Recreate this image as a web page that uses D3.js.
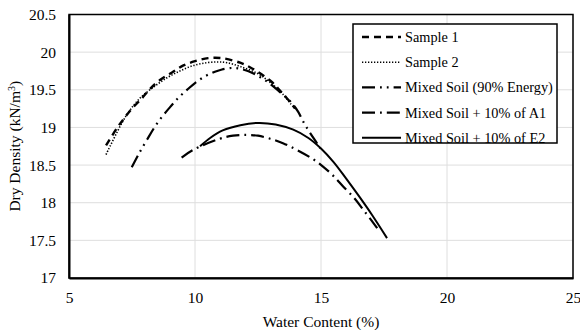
<!DOCTYPE html>
<html>
<head>
<meta charset="utf-8">
<script src="https://cdn.jsdelivr.net/npm/d3@7"></script>
<style>
  body { margin: 0; background: #fff; }
  text { font-family: "Liberation Serif", "Times New Roman", serif; fill: #000; }
</style>
</head>
<body>
<div id="canvas"></div>
<script>
"use strict"

/* Data: [water content, dry density] */
let sample1 = [[6.47, 18.76], [6.90, 18.99], [7.14, 19.10], [7.50, 19.25], [7.90, 19.39], [8.21, 19.51],
    [8.61, 19.63], [9.09, 19.73], [9.52, 19.82], [10.0, 19.88], [10.52, 19.92], [11.07, 19.92],
    [11.79, 19.86], [12.18, 19.80], [12.58, 19.72], [13.06, 19.60], [13.37, 19.49], [13.69, 19.37], [13.97, 19.25]];
let sample2 = [[6.47, 18.64], [7.10, 19.06], [7.42, 19.23], [7.82, 19.39], [8.33, 19.53], [8.89, 19.66],
    [9.40, 19.75], [9.92, 19.82], [10.48, 19.86], [10.91, 19.87], [11.27, 19.86], [11.79, 19.81],
    [12.46, 19.72], [12.98, 19.60], [13.49, 19.44], [13.85, 19.29]];
let mixed90 = [[7.49, 18.47], [7.74, 18.63], [8.10, 18.84], [8.53, 19.07], [9.01, 19.27], [9.33, 19.39],
    [9.72, 19.51], [10.00, 19.59], [10.40, 19.68], [10.79, 19.74], [11.07, 19.77], [11.51, 19.79],
    [11.90, 19.77], [12.30, 19.72], [12.86, 19.61], [13.37, 19.47], [13.77, 19.35], [14.09, 19.21],
    [14.29, 19.08], [14.56, 18.93], [14.84, 18.79], [14.96, 18.72]];
let mixedA1 = [[9.47, 18.60], [9.92, 18.70], [10.99, 18.85], [11.51, 18.89], [12.06, 18.90], [12.50, 18.89],
    [12.98, 18.85], [13.49, 18.79], [14.05, 18.70], [14.68, 18.58], [15.08, 18.48], [15.48, 18.36],
    [15.87, 18.22], [16.35, 18.05], [16.67, 17.91], [17.06, 17.74], [17.34, 17.61]];
let mixedE2 = [[10.20, 18.75], [10.60, 18.86], [11.10, 18.96], [11.80, 19.03], [12.50, 19.06], [13.20, 19.04],
    [13.90, 18.97], [14.50, 18.86], [15.00, 18.72], [15.50, 18.54], [16.00, 18.32], [16.50, 18.09],
    [17.00, 17.85], [17.62, 17.53]];

let seriesNames = ["Sample 1", "Sample 2", "Mixed Soil (90% Energy)", "Mixed Soil + 10% of A1", "Mixed Soil + 10% of E2"];
let seriesData = [sample1, sample2, mixed90, mixedA1, mixedE2];
let xTicks = [5, 10, 15, 20, 25];
let yTicks = [17, 17.5, 18, 18.5, 19, 19.5, 20, 20.5];

/* line styles for each series */
let dashes = ["7,5", "1.3,1.7", "13,5,1.8,5,1.8,5", "13,5,1.8,5", null];
let widths = [2.4, 1.6, 2.2, 2.2, 2];

/* drawing size */
let svgWidth = 580;
let svgHeight = 330;
let leftMargin = 69;
let rightMargin = 7;
let topMargin = 14.5;
let bottomMargin = 52;

let svg = d3.select("#canvas")
    .append("svg")
    .attr("width", svgWidth)
    .attr("height", svgHeight);

let xScale = d3.scaleLinear()
    .domain([5, 25])
    .range([leftMargin, svgWidth - rightMargin]);

let yScale = d3.scaleLinear()
    .domain([17, 20.5])
    .range([svgHeight - bottomMargin, topMargin]);

/* grid lines */
svg.selectAll(".hgrid")
    .data(yTicks)
    .join("line")
    .attr("x1", xScale(5))
    .attr("x2", xScale(25))
    .attr("y1", d => yScale(d))
    .attr("y2", d => yScale(d))
    .attr("stroke", "#dedede")
    .attr("stroke-width", 1);

svg.selectAll(".vgrid")
    .data(xTicks)
    .join("line")
    .attr("x1", d => xScale(d))
    .attr("x2", d => xScale(d))
    .attr("y1", yScale(17))
    .attr("y2", yScale(20.5))
    .attr("stroke", "#dedede")
    .attr("stroke-width", 1);

/* plot frame */
svg.append("rect")
    .attr("x", xScale(5))
    .attr("y", yScale(20.5))
    .attr("width", xScale(25) - xScale(5))
    .attr("height", yScale(17) - yScale(20.5))
    .attr("fill", "none")
    .attr("stroke", "#000")
    .attr("stroke-width", 1.5);

/* axes */
svg.append("g")
    .attr("transform", `translate(0,${yScale(17)})`)
    .call(d3.axisBottom(xScale).tickValues(xTicks).tickFormat(d3.format("")).tickSize(0).tickPadding(14))
    .call(g => g.select(".domain").attr("stroke-width", 2))
    .selectAll("text")
    .style("font-size", "15.5px")
    .style("font-family", "Liberation Serif");

svg.append("g")
    .attr("transform", `translate(${xScale(5)},0)`)
    .call(d3.axisLeft(yScale).tickValues(yTicks).tickFormat(d3.format("")).tickSize(0).tickPadding(13))
    .call(g => g.select(".domain").attr("stroke-width", 2))
    .selectAll("text")
    .style("font-size", "15.5px")
    .style("font-family", "Liberation Serif");

/* axis titles */
svg.append("text")
    .attr("x", (xScale(5) + xScale(25)) / 2)
    .attr("y", 327)
    .attr("text-anchor", "middle")
    .style("font-size", "15.5px")
    .text("Water Content (%)");

let yTitle = svg.append("text")
    .attr("transform", `translate(20,${(yScale(17) + yScale(20.5)) / 2}) rotate(-90)`)
    .attr("text-anchor", "middle")
    .style("font-size", "15.5px");
yTitle.append("tspan").text("Dry Density (kN/m");
yTitle.append("tspan").attr("baseline-shift", "super").style("font-size", "10px").text("3");
yTitle.append("tspan").text(")");

/* curves */
let line = d3.line()
    .x(d => xScale(d[0]))
    .y(d => yScale(d[1]))
    .curve(d3.curveCatmullRom);

for (let i = 0; i < seriesData.length; i++) {
    svg.append("path")
        .datum(seriesData[i])
        .attr("d", line)
        .attr("fill", "none")
        .attr("stroke", "#000")
        .attr("stroke-width", widths[i])
        .attr("stroke-dasharray", dashes[i]);
}

/* legend box */
svg.append("rect")
    .attr("x", 353)
    .attr("y", 24)
    .attr("width", 204)
    .attr("height", 119)
    .attr("fill", "#fff")
    .attr("stroke", "#000")
    .attr("stroke-width", 1.5);

for (let i = 0; i < seriesNames.length; i++) {
    let ly = 37 + i * 25.2;
    svg.append("line")
        .attr("x1", 362)
        .attr("x2", 401)
        .attr("y1", ly)
        .attr("y2", ly)
        .attr("stroke", "#000")
        .attr("stroke-width", widths[i])
        .attr("stroke-dasharray", dashes[i]);

    svg.append("text")
        .attr("x", 405)
        .attr("y", ly)
        .attr("dominant-baseline", "central")
        .style("font-size", "14.3px")
        .text(seriesNames[i]);
}
</script>
</body>
</html>
